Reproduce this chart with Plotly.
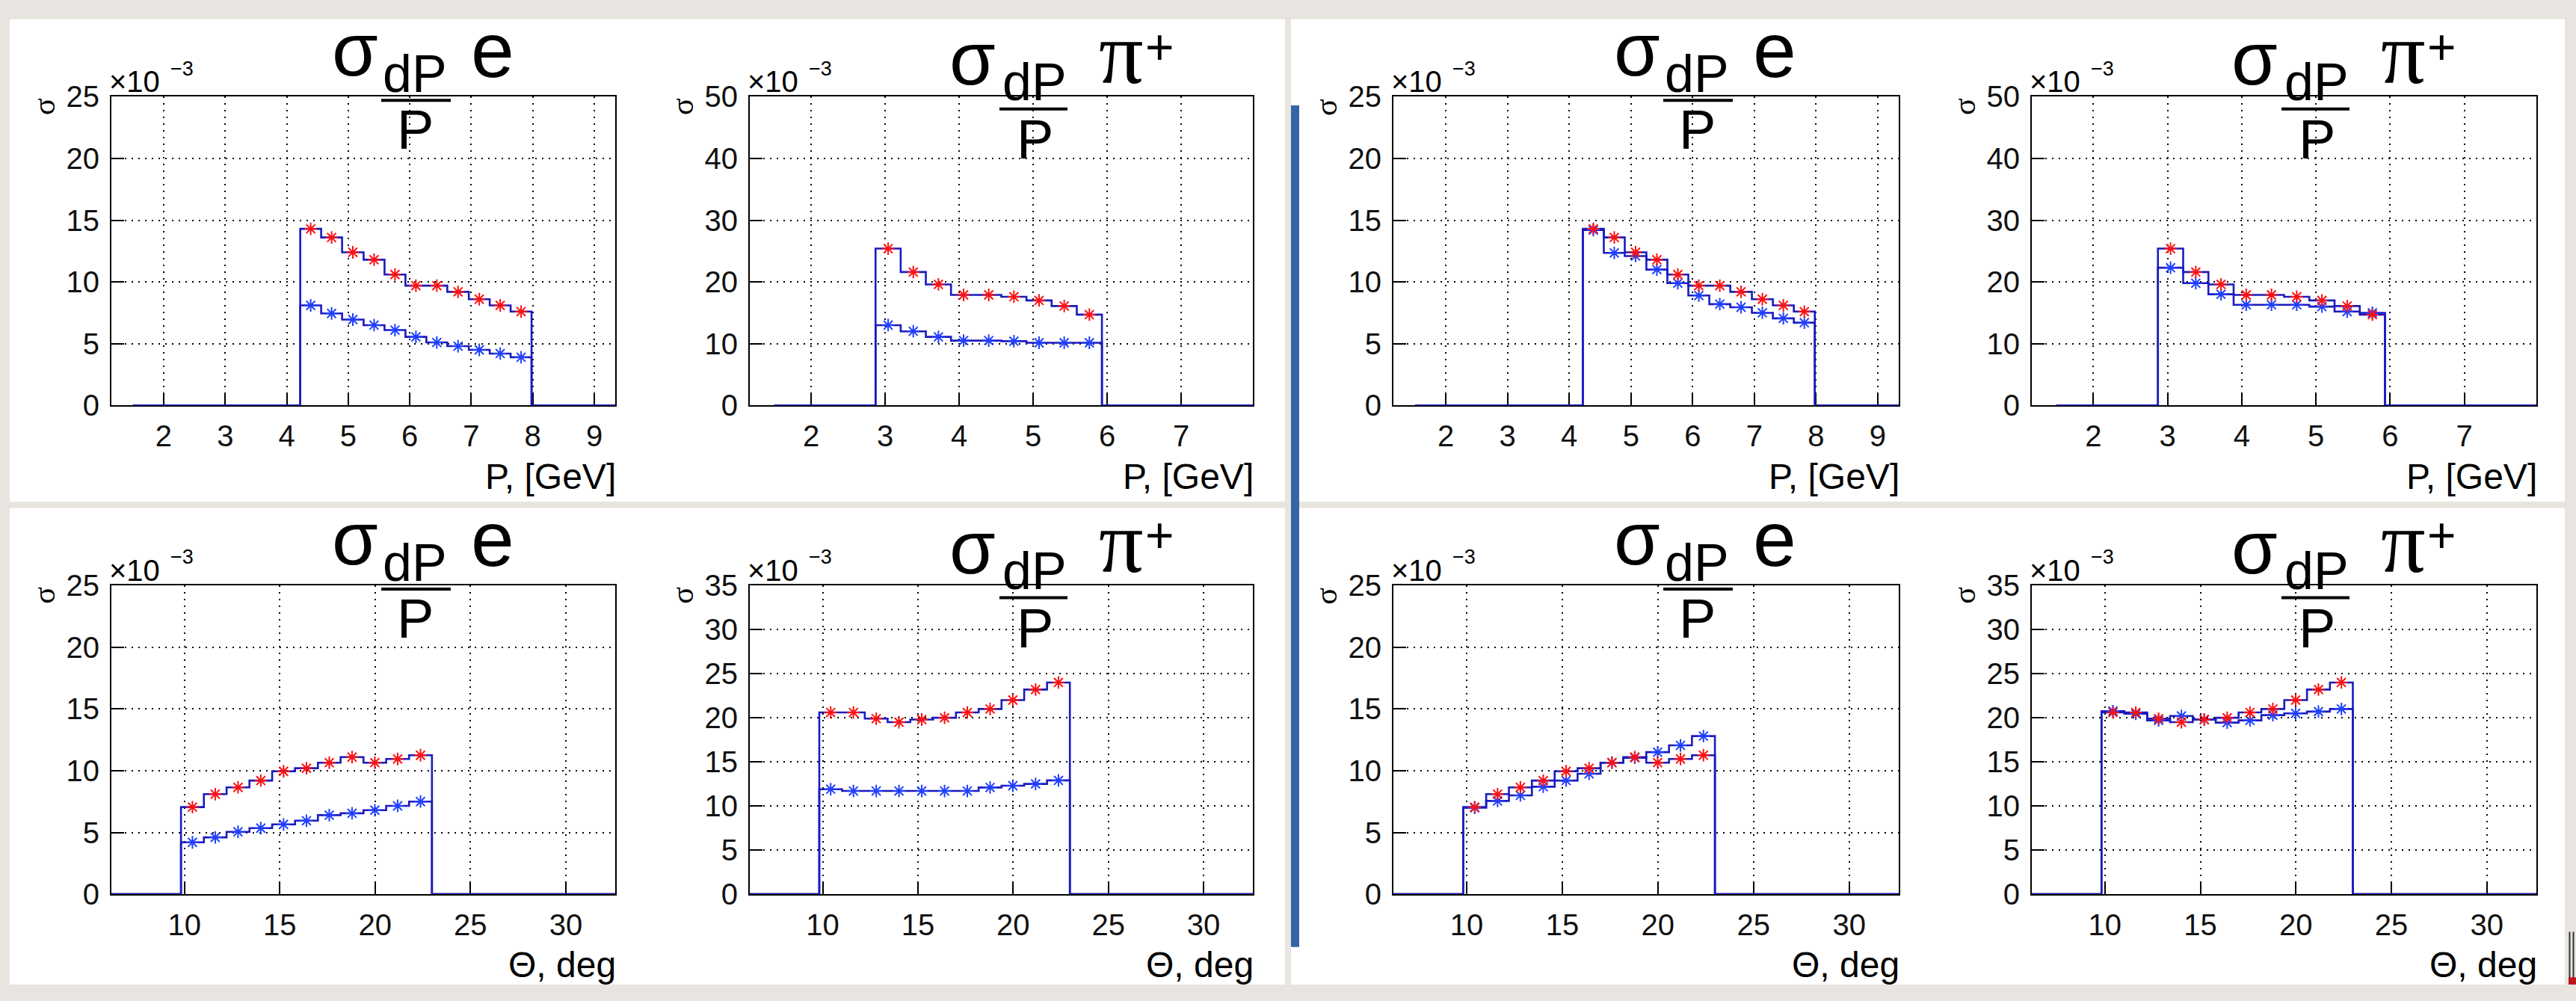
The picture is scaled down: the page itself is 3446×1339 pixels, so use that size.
import plotly.graph_objects as go

W, H = 3446, 1339

# ---------------- data (y values in units of 1e-3) ----------------
P_E_EDGES = [4.22, 4.56, 4.90, 5.25, 5.59, 5.93, 6.27, 6.61, 6.96, 7.30, 7.64, 7.98]
P_PI_EDGES = [2.87, 3.21, 3.55, 3.89, 4.23, 4.57, 4.91, 5.25, 5.59, 5.93]
TH_EDGES = [9.82, 11.02, 12.21, 13.41, 14.60, 15.80, 17.00, 18.19, 19.39, 20.58, 21.78, 22.98]

P_E_RED = [14.3, 13.6, 12.4, 11.8, 10.6, 9.7, 9.7, 9.2, 8.6, 8.1, 7.6]
P_E_BLUE_LEFT = [8.1, 7.45, 6.95, 6.5, 6.1, 5.55, 5.1, 4.8, 4.5, 4.2, 3.9]
P_E_BLUE_RIGHT = [14.2, 12.35, 12.1, 11.0, 9.9, 8.9, 8.2, 7.95, 7.5, 7.05, 6.7]

P_PI_RED = [25.4, 21.6, 19.6, 17.9, 17.9, 17.6, 17.0, 16.1, 14.7]
P_PI_BLUE_LEFT = [13.0, 12.0, 11.1, 10.5, 10.5, 10.4, 10.15, 10.15, 10.15]
P_PI_BLUE_RIGHT = [22.3, 19.8, 18.0, 16.3, 16.3, 16.3, 16.0, 15.2, 15.0]

TH_E_RED = [7.05, 8.1, 8.65, 9.2, 9.95, 10.2, 10.65, 11.1, 10.65, 10.95, 11.25]
TH_E_BLUE_LEFT = [4.2, 4.6, 5.05, 5.35, 5.65, 5.95, 6.4, 6.55, 6.8, 7.15, 7.5]
TH_E_BLUE_RIGHT = [7.0, 7.55, 8.0, 8.7, 9.2, 9.75, 10.65, 11.05, 11.5, 12.05, 12.8]

TH_PI_RED = [20.6, 20.6, 19.9, 19.5, 19.8, 20.0, 20.6, 21.0, 22.0, 23.2, 24.0]
TH_PI_BLUE_LEFT = [11.9, 11.7, 11.7, 11.7, 11.7, 11.7, 11.7, 12.1, 12.3, 12.5, 12.9]
TH_PI_BLUE_RIGHT = [20.75, 20.45, 19.7, 20.2, 19.8, 19.45, 19.7, 20.3, 20.5, 20.7, 21.0]

P_E_XTICKS = [2, 3, 4, 5, 6, 7, 8, 9]
P_PI_XTICKS = [2, 3, 4, 5, 6, 7]
TH_XTICKS = [10, 15, 20, 25, 30]
E_YTICKS = [0, 5, 10, 15, 20, 25]
PI_P_YTICKS = [0, 10, 20, 30, 40, 50]
PI_TH_YTICKS = [0, 5, 10, 15, 20, 25, 30, 35]

X_TITLE_P = "P, [GeV]"
X_TITLE_TH = "Θ, deg"
Y_TITLE = "σ"
Y_MULT = "×10"
Y_EXP = "−3"

# ---------------- layout geometry (pixels) ----------------
COLS = [(149, 823), (1003, 1676), (1864, 2540), (2718, 3393)]
ROWS = [(111, 538), (787, 1214)]

P_E_RANGE = [1.15, 9.34]
P_PI_RANGE = [1.17, 7.97]
TH_RANGE = [6.17, 32.59]

panels = [
    dict(row=0, col=0, kind="e", xr=P_E_RANGE, hstart=1.5, edges=P_E_EDGES, red=P_E_RED, blue=P_E_BLUE_LEFT,
         yr=[0, 25], yt=E_YTICKS, xt=P_E_XTICKS, xtitle=X_TITLE_P),
    dict(row=0, col=1, kind="pi", xr=P_PI_RANGE, hstart=1.5, edges=P_PI_EDGES, red=P_PI_RED, blue=P_PI_BLUE_LEFT,
         yr=[0, 50], yt=PI_P_YTICKS, xt=P_PI_XTICKS, xtitle=X_TITLE_P),
    dict(row=0, col=2, kind="e", xr=P_E_RANGE, hstart=1.5, edges=P_E_EDGES, red=P_E_RED, blue=P_E_BLUE_RIGHT,
         yr=[0, 25], yt=E_YTICKS, xt=P_E_XTICKS, xtitle=X_TITLE_P),
    dict(row=0, col=3, kind="pi", xr=P_PI_RANGE, hstart=1.5, edges=P_PI_EDGES, red=P_PI_RED, blue=P_PI_BLUE_RIGHT,
         yr=[0, 50], yt=PI_P_YTICKS, xt=P_PI_XTICKS, xtitle=X_TITLE_P),
    dict(row=1, col=0, kind="e", xr=TH_RANGE, hstart=TH_RANGE[0], edges=TH_EDGES, red=TH_E_RED, blue=TH_E_BLUE_LEFT,
         yr=[0, 25], yt=E_YTICKS, xt=TH_XTICKS, xtitle=X_TITLE_TH),
    dict(row=1, col=1, kind="pi", xr=TH_RANGE, hstart=TH_RANGE[0], edges=TH_EDGES, red=TH_PI_RED, blue=TH_PI_BLUE_LEFT,
         yr=[0, 35], yt=PI_TH_YTICKS, xt=TH_XTICKS, xtitle=X_TITLE_TH),
    dict(row=1, col=2, kind="e", xr=TH_RANGE, hstart=TH_RANGE[0], edges=TH_EDGES, red=TH_E_RED, blue=TH_E_BLUE_RIGHT,
         yr=[0, 25], yt=E_YTICKS, xt=TH_XTICKS, xtitle=X_TITLE_TH),
    dict(row=1, col=3, kind="pi", xr=TH_RANGE, hstart=TH_RANGE[0], edges=TH_EDGES, red=TH_PI_RED, blue=TH_PI_BLUE_RIGHT,
         yr=[0, 35], yt=PI_TH_YTICKS, xt=TH_XTICKS, xtitle=X_TITLE_TH),
]


def fx(px):
    return px / W


def fy(py):
    return 1 - py / H


SANS = "Liberation Sans, Arial, sans-serif"
SERIF = "Liberation Serif, Times New Roman, serif"
LINE_BLUE = "#1a1ac0"
MARK_BLUE = "#2040ff"
RED = "#ff1010"
BG = "#e8e5e0"

fig = go.Figure()
annotations = []
shapes = []

# background white panels + separators
for (x0, y0, x1, y1) in [(13, 4, 1719, 671), (13, 680, 1719, 1339), (1727, 4, 3431, 671), (1727, 680, 3431, 1339)]:
    shapes.append(dict(type="rect", xref="paper", yref="paper", x0=fx(x0), x1=fx(x1), y0=fy(y1), y1=fy(y0),
                       fillcolor="white", line=dict(width=0), layer="below"))
shapes.append(dict(type="rect", xref="paper", yref="paper", x0=fx(1727), x1=fx(1738), y0=fy(1287), y1=fy(123),
                   fillcolor="#3464a4", line=dict(width=0), layer="below"))
for xx in (3437.5, 3442.5):
    shapes.append(dict(type="line", xref="paper", yref="paper", x0=fx(xx), x1=fx(xx), y0=fy(1330), y1=fy(1266),
                       line=dict(color="#333333", width=2), layer="below"))
shapes.append(dict(type="rect", xref="paper", yref="paper", x0=fx(3436), x1=fx(3446), y0=fy(1339), y1=fy(1329),
                   fillcolor="#c0141c", line=dict(width=0), layer="below"))

layout_axes = {}
for i, p in enumerate(panels):
    n = i + 1
    xa = "x" if n == 1 else f"x{n}"
    ya = "y" if n == 1 else f"y{n}"
    L, R = COLS[p["col"]]
    T, B = ROWS[p["row"]]
    edges = p["edges"]
    centers = [(edges[k] + edges[k + 1]) / 2 for k in range(len(edges) - 1)]
    hend = p["xr"][1]

    for vals in (p["red"], p["blue"]):
        fig.add_trace(go.Scatter(
            x=[p["hstart"]] + list(edges) + [hend], y=[0] + list(vals) + [0, 0],
            mode="lines", line=dict(color=LINE_BLUE, width=2.6, shape="hv"),
            xaxis=xa, yaxis=ya, showlegend=False, hoverinfo="skip"))
    fig.add_trace(go.Scatter(
        x=centers, y=p["blue"], mode="markers",
        marker=dict(symbol="asterisk-open", size=14, color=MARK_BLUE, line=dict(width=2, color=MARK_BLUE)),
        xaxis=xa, yaxis=ya, showlegend=False))
    fig.add_trace(go.Scatter(
        x=centers, y=p["red"], mode="markers",
        marker=dict(symbol="asterisk-open", size=14, color=RED, line=dict(width=2, color=RED)),
        xaxis=xa, yaxis=ya, showlegend=False))

    common = dict(showline=True, mirror=True, linecolor="black", linewidth=2,
                  ticks="inside", tickwidth=2, tickcolor="black",
                  showgrid=True, gridcolor="black", gridwidth=2, griddash="2px,7px",
                  zeroline=False, tickfont=dict(family=SANS, size=40, color="#111111"),
                  layer="below traces", fixedrange=True)
    layout_axes["xaxis" if n == 1 else f"xaxis{n}"] = dict(
        common, domain=[fx(L), fx(R)], range=p["xr"], tickvals=p["xt"], ticktext=[str(v) for v in p["xt"]],
        ticklen=15, anchor=ya, ticklabelstandoff=5)
    layout_axes["yaxis" if n == 1 else f"yaxis{n}"] = dict(
        common, domain=[fy(B), fy(T)], range=p["yr"], tickvals=p["yt"], ticktext=[str(v) for v in p["yt"]],
        ticklen=17, anchor=xa, ticklabelstandoff=6)

    def ann(text, x, y, family, size, xanchor="center", angle=0):
        annotations.append(dict(text=text, x=fx(x), y=fy(y), xref="paper", yref="paper",
                                xanchor=xanchor, yanchor="middle", showarrow=False, borderpad=0,
                                textangle=angle, font=dict(family=family, size=size, color="black")))

    # axis titles and multiplier
    ann(p["xtitle"], R + 2, B + 98, SANS, 48, xanchor="right")
    ann(Y_TITLE, L - 90, T + 14, SERIF, 42, angle=-90)
    ann(Y_MULT, L - 4, T - 21, SANS, 40, xanchor="left")
    ann(Y_EXP, L + 78, T - 39, SANS, 27, xanchor="left")

    # panel title: sigma_{dP/P} particle
    if p["kind"] == "e":
        ann("σ", L + 326, T - 65, SANS, 100)
        ann("dP", L + 406, T - 31, SANS, 70)
        ann("P", L + 406, T + 46, SANS, 74)
        ann("e", L + 510, T - 64, SANS, 104)
        bx0, bx1, by = L + 361, L + 454, T + 5
    else:
        ann("σ", L + 298, T - 53, SANS, 100)
        ann("dP", L + 381, T - 20, SANS, 70)
        ann("P", L + 381, T + 59, SANS, 74)
        ann("π", L + 497, T - 60, SERIF, 118)
        ann("+", L + 548, T - 69, SANS, 66)
        bx0, bx1, by = L + 334, L + 425, T + 17
    shapes.append(dict(type="line", xref="paper", yref="paper", x0=fx(bx0), x1=fx(bx1), y0=fy(by), y1=fy(by),
                       line=dict(color="black", width=4)))

fig.update_layout(
    width=W, height=H, margin=dict(l=0, r=0, t=0, b=0),
    paper_bgcolor=BG, plot_bgcolor="white",
    annotations=annotations, shapes=shapes, showlegend=False,
    **layout_axes)

fig.write_html("out.html")
